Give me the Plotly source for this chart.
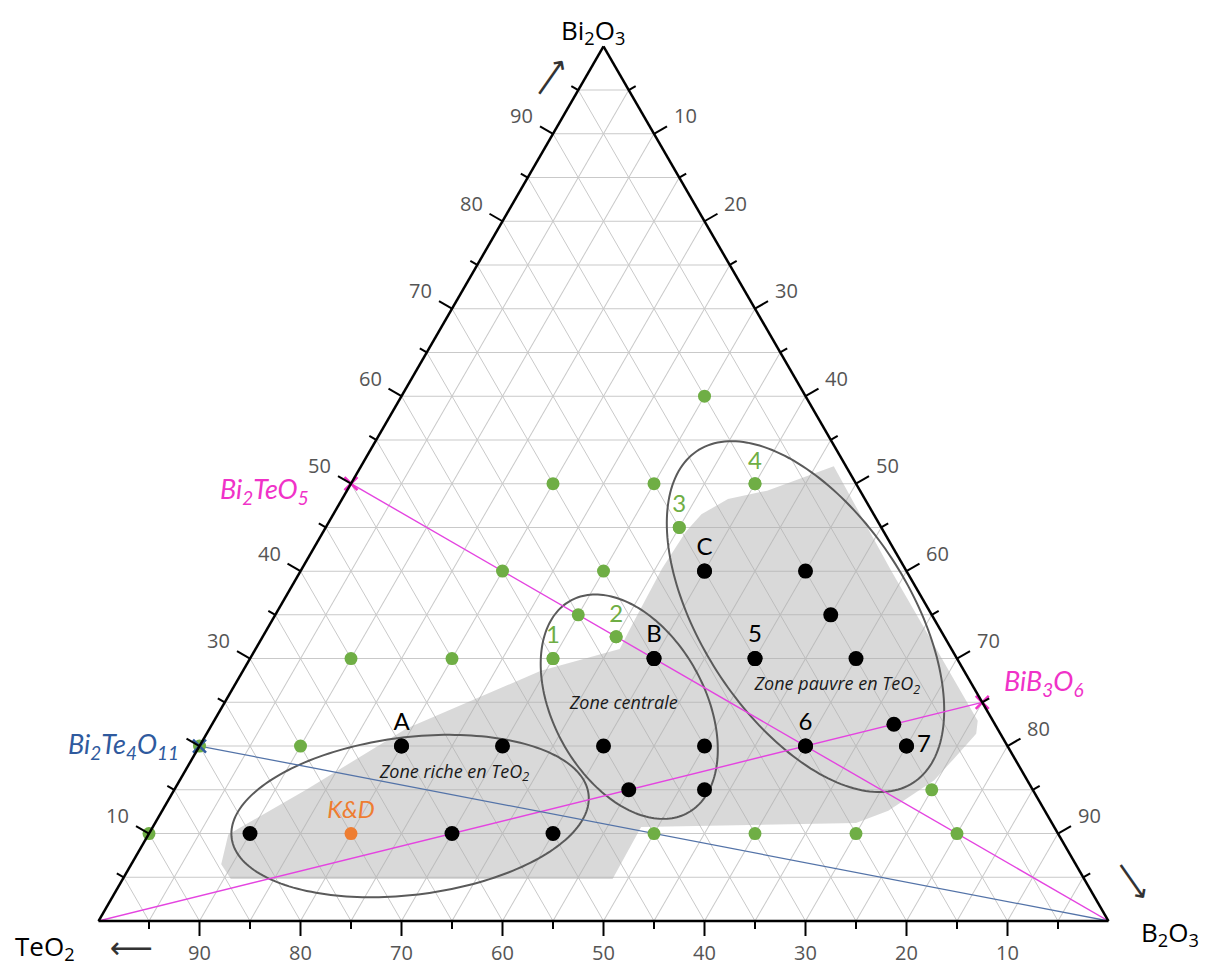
import numpy as np
import plotly.graph_objects as go

# ---------------- data (percent: Bi2O3 = a, TeO2 = b, B2O3 = c) ----------------
green_a = [60, 50, 50, 50, 45, 40, 40, 35, 32.5, 30, 30, 30, 20, 20, 15, 10, 10, 10, 10, 10]
green_b = [10, 30, 20, 10, 20, 40, 30, 35, 32.5, 60, 50, 40, 80, 70, 10, 90, 40, 30, 20, 10]
green_c = [30, 20, 30, 40, 35, 20, 30, 30, 35, 10, 20, 30, 0, 10, 75, 0, 50, 60, 70, 80]

black_a = [40, 40, 35, 30, 30, 30, 22.5, 20, 20, 20, 20, 20, 20, 15, 15, 10, 10, 10]
black_b = [20, 10, 10, 30, 20, 10, 10, 60, 50, 40, 30, 20, 10, 40, 32.5, 80, 60, 50]
black_c = [40, 50, 55, 40, 50, 60, 67.5, 20, 30, 40, 50, 60, 70, 45, 52.5, 10, 30, 40]

kd_abc = (10, 70, 20)

black_labels = ["C", "B", "5", "A", "6"]
black_label_a = [40, 30, 30, 20, 20]
black_label_b = [20, 30, 20, 60, 20]
black_label_c = [40, 40, 50, 20, 60]
label7_abc = (20, 10, 70)

green_labels = ["1", "2", "3", "4"]
green_label_a = [30, 32.5, 45, 50]
green_label_b = [40, 32.5, 20, 10]
green_label_c = [30, 35, 35, 40]

# compounds
bi2teo5 = (50, 50, 0)
bib3o6 = (25, 0, 75)
bi2te4o11 = (20, 80, 0)
teo2_corner = (0, 100, 0)
b2o3_corner = (0, 0, 100)

# gray domain outline (a, b, c)
zone_a = [6.5, 4.8, 4.8, 10.75, 11.2, 12.6, 16.1, 18.5, 21.4, 22.9, 31, 40, 52,
          49.2, 48.25, 46.5, 44.5, 40.3, 34.0, 31.1, 28.6, 22.0, 14.95, 9.9]
zone_b = [84.6, 84.5, 46.7, 40.9, 19.4, 15.5, 9.2, 6.1, 2.4, 1.5, 1.5, 1.5, 1.2,
          9.2, 13.55, 17.05, 19.6, 24.05, 30.1, 32.85, 41.9, 58.5, 72.05, 82.2]
zone_c = [8.9, 10.7, 48.5, 48.35, 69.4, 71.9, 74.7, 75.4, 76.2, 75.6, 67.5, 58.5, 46.8,
          41.6, 38.2, 36.45, 35.9, 35.65, 35.9, 36.05, 29.5, 19.5, 13.0, 7.9]

# ellipses: centre (a, b, c), semi-axes (% of side), angle (deg)
ellipse_centres = [(12.0, 63.15, 24.85), (24.5, 35.2, 40.3), (34.8, 12.6, 52.6)]
ellipse_axes = [(17.8, 7.8), (12.0, 7.5), (19.6, 10.3)]
ellipse_angles = [7, -61, -57]

zone_names = ["<i>Zone riche en TeO<sub>2</sub></i>", "<i>Zone centrale</i>",
              "<i>Zone pauvre en TeO<sub>2</sub></i>"]
zone_name_a = [16.9, 24.8, 26.9]
zone_name_b = [56.3, 35.6, 13.4]
zone_name_c = [26.8, 39.6, 59.7]

tick_vals = list(range(5, 100, 5))
a_labels = [10, 30, 40, 50, 60, 70, 80, 90]          # Bi2O3 (left side); 20 replaced by Bi2Te4O11
b_labels = [10, 20, 30, 40, 50, 60, 70, 80, 90]      # TeO2 (bottom)
c_labels = [10, 20, 30, 40, 50, 60, 70, 80, 90]      # B2O3 (right side)

# ---------------- styles ----------------
MAGENTA_LINE = "#e444e0"
MAGENTA_TXT = "#f032c8"
BLUE_LINE = "#5373a8"
BLUE_TXT = "#2f5a9e"
GREEN = "#6fae45"
ORANGE = "#ee7d31"
LABEL_FONT = "Lato, Open Sans, sans-serif"

S3 = np.sqrt(3) / 2

# page body has an 8px margin; the figure fills the rest of the 1215x975 window
PAGE_PAD = 8
W, H = 1215 - 2 * PAGE_PAD, 975 - 2 * PAGE_PAD
side = 1010
x_left = 98.5 - PAGE_PAD      # left vertex, figure px
y_bottom = 921 - PAGE_PAD     # base line, figure px
tri_h = side * S3


def to_px(a, b, c):
    """ternary composition -> figure pixel (x right, y down) of the ternary domain"""
    s = a + b + c
    a, c = a / s, c / s
    return x_left + (c + a / 2) * side, y_bottom - a * tri_h


def px_to_paper(x, y):
    return x / W, 1 - y / H


def ellipse_pts(centre, axes, angle, n=200):
    a0, b0, c0 = centre
    X0, Y0 = c0 + a0 / 2, a0 * S3
    t = np.linspace(0, 2 * np.pi, n)
    th = np.radians(angle)
    A, B = axes
    X = X0 + A * np.cos(t) * np.cos(th) - B * np.sin(t) * np.sin(th)
    Y = Y0 + A * np.cos(t) * np.sin(th) + B * np.sin(t) * np.cos(th)
    a = Y / S3
    c = X - a / 2
    b = 100 - a - c
    return a, b, c


fig = go.Figure()

# gray domain
fig.add_trace(go.Scatterternary(
    a=zone_a + [zone_a[0]], b=zone_b + [zone_b[0]], c=zone_c + [zone_c[0]],
    mode="lines", fill="toself", fillcolor="rgba(175,175,175,0.47)",
    line=dict(width=0, color="rgba(0,0,0,0)"), hoverinfo="skip"))

# ellipses
for cen, ax, ang in zip(ellipse_centres, ellipse_axes, ellipse_angles):
    ea, eb, ec = ellipse_pts(cen, ax, ang)
    fig.add_trace(go.Scatterternary(a=ea, b=eb, c=ec, mode="lines",
                                    line=dict(color="#5a5a5a", width=2), hoverinfo="skip"))

# compound lines
fig.add_trace(go.Scatterternary(a=[bi2teo5[0], b2o3_corner[0]], b=[bi2teo5[1], b2o3_corner[1]],
                                c=[bi2teo5[2], b2o3_corner[2]], mode="lines",
                                line=dict(color=MAGENTA_LINE, width=1.4)))
fig.add_trace(go.Scatterternary(a=[teo2_corner[0], bib3o6[0]], b=[teo2_corner[1], bib3o6[1]],
                                c=[teo2_corner[2], bib3o6[2]], mode="lines",
                                line=dict(color=MAGENTA_LINE, width=1.4)))
fig.add_trace(go.Scatterternary(a=[bi2te4o11[0], b2o3_corner[0]], b=[bi2te4o11[1], b2o3_corner[1]],
                                c=[bi2te4o11[2], b2o3_corner[2]], mode="lines",
                                line=dict(color=BLUE_LINE, width=1.3)))

# points
fig.add_trace(go.Scatterternary(a=green_a, b=green_b, c=green_c, mode="markers", cliponaxis=False,
                                marker=dict(color=GREEN, size=13)))
fig.add_trace(go.Scatterternary(a=black_a, b=black_b, c=black_c, mode="markers", cliponaxis=False,
                                marker=dict(color="black", size=15)))
fig.add_trace(go.Scatterternary(a=[kd_abc[0]], b=[kd_abc[1]], c=[kd_abc[2]], mode="markers+text",
                                cliponaxis=False,
                                marker=dict(color=ORANGE, size=13),
                                text=["<i>K&D</i>"], textposition="top center",
                                textfont=dict(family=LABEL_FONT, size=24, color=ORANGE)))

# compound markers
for comp, col in [(bi2teo5, MAGENTA_TXT), (bib3o6, MAGENTA_TXT), (bi2te4o11, BLUE_TXT)]:
    fig.add_trace(go.Scatterternary(a=[comp[0]], b=[comp[1]], c=[comp[2]], mode="markers",
                                    cliponaxis=False,
                                    marker=dict(symbol="x-thin", size=13, line=dict(width=2.5, color=col))))

# point labels
fig.add_trace(go.Scatterternary(a=black_label_a, b=black_label_b, c=black_label_c, mode="markers+text",
                                cliponaxis=False,
                                marker=dict(color="black", size=15),
                                text=black_labels, textposition="top center",
                                textfont=dict(family=LABEL_FONT, size=24, color="black")))
fig.add_trace(go.Scatterternary(a=[label7_abc[0]], b=[label7_abc[1]], c=[label7_abc[2]],
                                mode="markers+text", cliponaxis=False, marker=dict(color="black", size=15),
                                text=["7"], textposition="middle right",
                                textfont=dict(family=LABEL_FONT, size=24, color="black")))
fig.add_trace(go.Scatterternary(a=green_label_a, b=green_label_b, c=green_label_c, mode="markers+text",
                                cliponaxis=False,
                                marker=dict(color=GREEN, size=13),
                                text=green_labels, textposition="top center",
                                textfont=dict(family=LABEL_FONT, size=24, color=GREEN)))

# zone names
fig.add_trace(go.Scatterternary(a=zone_name_a, b=zone_name_b, c=zone_name_c, mode="text",
                                cliponaxis=False,
                                text=zone_names, textposition="middle center",
                                textfont=dict(family="Open Sans", size=18, color="#1a1a1a")))

axis_common = dict(
    tickmode="array", tickvals=tick_vals, ticks="", showticklabels=False,
    showline=True, linecolor="black", linewidth=2.5,
    showgrid=True, gridcolor="#c9c9c9", gridwidth=1.2,
    title=dict(text=""), min=0,
)

fig.update_layout(
    width=W, height=H,
    margin=dict(l=0, r=0, t=0, b=0, autoexpand=False),
    paper_bgcolor="white",
    showlegend=False,
    ternary=dict(
        sum=100,
        bgcolor="white",
        domain=dict(x=[x_left / W, (x_left + side) / W],
                    y=[(H - y_bottom) / H, (H - y_bottom + tri_h) / H]),
        aaxis=axis_common, baxis=axis_common, caxis=axis_common,
    ),
)

# ---- ticks perpendicular to each side, longer on the tens, labels outside ----
tick_font = dict(family="Open Sans", size=20, color="#555555")
n_left = (-np.sqrt(3) / 2, -0.5)
n_right = (np.sqrt(3) / 2, -0.5)
n_bottom = (0.0, 1.0)
shapes = []
for v in tick_vals:
    L = 15 if v % 10 == 0 else 8
    for comp, n, labels in [((v, 100 - v, 0), n_left, a_labels),
                            ((100 - v, 0, v), n_right, c_labels),
                            ((0, v, 100 - v), n_bottom, b_labels)]:
        x0, y0 = to_px(*comp)
        x1, y1 = x0 + n[0] * L, y0 + n[1] * L
        px0, py0 = px_to_paper(x0, y0)
        px1, py1 = px_to_paper(x1, y1)
        shapes.append(dict(type="line", xref="paper", yref="paper", x0=px0, y0=py0, x1=px1, y1=py1,
                           line=dict(color="black", width=2)))
        if v in labels:
            dist = 31 if n is n_bottom else 36
            lx, ly = px_to_paper(x0 + n[0] * dist, y0 + n[1] * dist)
            fig.add_annotation(x=lx, y=ly, xref="paper", yref="paper", showarrow=False,
                               text=str(v), font=tick_font, xanchor="center", yanchor="middle")
fig.update_layout(shapes=shapes)

# ---- compound names ----
comp_font = dict(family=LABEL_FONT, size=27)
for comp, txt, col, dx, dy, anchor in [
        (bi2teo5, "<i>Bi<sub>2</sub>TeO<sub>5</sub></i>", MAGENTA_TXT, -40, 7, "right"),
        (bi2te4o11, "<i>Bi<sub>2</sub>Te<sub>4</sub>O<sub>11</sub></i>", BLUE_TXT, -18, -1, "right"),
        (bib3o6, "<i>BiB<sub>3</sub>O<sub>6</sub></i>", MAGENTA_TXT, 20, -20, "left")]:
    x0, y0 = to_px(*comp)
    lx, ly = px_to_paper(x0 + dx, y0 + dy)
    fig.add_annotation(x=lx, y=ly, xref="paper", yref="paper", showarrow=False, text=txt,
                       font=dict(color=col, **comp_font), xanchor=anchor, yanchor="middle")

# ---- component names and arrows at the corners ----
title_font = dict(family="Open Sans", size=26, color="black")
for txt, (sx, sy) in [("Bi<sub>2</sub>O<sub>3</sub>", (593, 31)),
                      ("TeO<sub>2</sub>", (45, 947)),
                      ("B<sub>2</sub>O<sub>3</sub>", (1170, 933))]:
    lx, ly = px_to_paper(sx - PAGE_PAD, sy - PAGE_PAD)
    fig.add_annotation(x=lx, y=ly, xref="paper", yref="paper", showarrow=False, text=txt,
                       font=title_font, xanchor="center", yanchor="middle")

arrow_font = dict(family="DejaVu Sans", size=30, color="#333")
for glyph, ang, (sx, sy) in [("\u27f6", -55, (549, 77)), ("\u27f5", 0, (131, 947)),
                             ("\u27f6", 55, (1133, 880))]:
    lx, ly = px_to_paper(sx - PAGE_PAD, sy - PAGE_PAD)
    fig.add_annotation(x=lx, y=ly, xref="paper", yref="paper", showarrow=False, text=glyph,
                       textangle=ang, font=arrow_font, xanchor="center", yanchor="middle")

fig.write_html("out.html")
